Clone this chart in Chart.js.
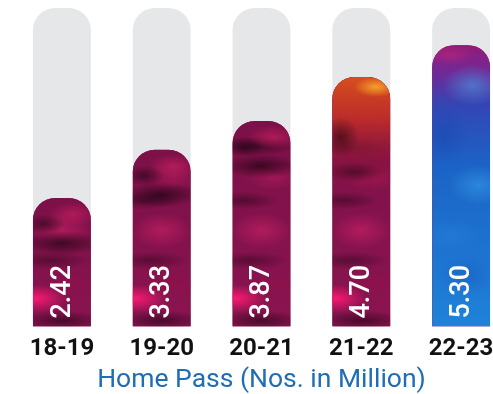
<!DOCTYPE html>
<html>
<head>
<meta charset="utf-8">
<script src="https://cdn.jsdelivr.net/npm/chart.js@4.4.0/dist/chart.umd.min.js"></script>
<style>
  html, body { margin: 0; padding: 0; background: #fff; overflow: hidden; }
  #wrap { width: 511px; height: 394px; }
</style>
</head>
<body>
<div id="wrap"><canvas id="chart"></canvas></div>
<script>
const years = ["18-19", "19-20", "20-21", "21-22", "22-23"];
const homePass = [2.42, 3.33, 3.87, 4.70, 5.30];
const trackMax = [6, 6, 6, 6, 6];

// soft elliptical spot
function spot(ctx, cx, cy, rx, ry, c) {
  ctx.save();
  ctx.translate(cx, cy);
  ctx.scale(1, ry / rx);
  const g = ctx.createRadialGradient(0, 0, 0, 0, 0, rx);
  g.addColorStop(0, `rgba(${c[0]},${c[1]},${c[2]},${c[3]})`);
  g.addColorStop(1, `rgba(${c[0]},${c[1]},${c[2]},0)`);
  ctx.fillStyle = g;
  ctx.fillRect(-rx, -rx, rx * 2, rx * 2);
  ctx.restore();
}

// spots measured up from the bar base: [fx, dy, rx, ry, rgba]
const pinkLow = [
  [0.5, 6, 45, 10, [30, 4, 20, 0.6]],
  [0.05, 28, 32, 14, [255, 25, 115, 0.95]],
  [0.65, 42, 28, 10, [150, 15, 70, 0.5]],
  [0.3, 66, 40, 9, [45, 5, 28, 0.5]],
  [0.5, 96, 30, 18, [215, 35, 105, 0.55]],
  [0.2, 126, 35, 9, [40, 5, 25, 0.5]],
  [0.7, 150, 28, 14, [200, 30, 100, 0.45]],
  [0.4, 180, 40, 10, [30, 4, 20, 0.55]],
  [0.6, 206, 30, 14, [190, 25, 95, 0.45]],
  [0.3, 240, 40, 12, [25, 3, 18, 0.55]]
];
// spots measured down from the bar top
const pinkTop = [
  [0.5, 45, 40, 12, [20, 2, 12, 0.65]],
  [0.7, 16, 25, 12, [215, 35, 100, 0.55]],
  [0.2, 26, 20, 10, [25, 3, 15, 0.55]]
];
const blueSpots = [
  [0.7, 40, 30, 20, [70, 175, 240, 0.5]],
  [0.2, 90, 25, 30, [20, 70, 170, 0.45]],
  [0.8, 140, 30, 20, [60, 165, 235, 0.5]],
  [0.3, 190, 30, 16, [40, 130, 220, 0.45]],
  [0.6, 230, 30, 20, [25, 80, 185, 0.4]]
];

function paintBar(ctx, i, x0, top, w, base) {
  const h = base - top;
  const lin = (stops) => {
    const g = ctx.createLinearGradient(0, top, 0, base);
    stops.forEach(s => g.addColorStop(Math.min(1, s[0] / h), s[1]));
    return g;
  };
  if (i === 4) {
    ctx.fillStyle = lin([[0, "#951a78"], [28, "#6e2a98"], [60, "#3346b4"], [120, "#1b63c6"], [h, "#1f82d8"]]);
    ctx.fillRect(x0, top, w, h);
    blueSpots.forEach(s => spot(ctx, x0 + s[0] * w, top + s[1], s[2], s[3], s[4]));
    spot(ctx, x0 + 0.3 * w, top + 10, 25, 10, [200, 40, 120, 0.5]);
    return;
  }
  ctx.fillStyle = lin([[0, "#7c1048"], [h, "#8a1450"]]);
  ctx.fillRect(x0, top, w, h);
  pinkLow.forEach(s => {
    if (s[1] < h - 20) spot(ctx, x0 + s[0] * w, base - s[1], s[2], s[3], s[4]);
  });
  if (i === 3) {
    // warm cap on the 21-22 bar
    const g = ctx.createLinearGradient(0, top, 0, top + 120);
    g.addColorStop(0, "rgba(215,78,30,1)");
    g.addColorStop(0.35, "rgba(190,45,40,0.95)");
    g.addColorStop(0.7, "rgba(140,20,60,0.6)");
    g.addColorStop(1, "rgba(140,20,60,0)");
    ctx.fillStyle = g;
    ctx.fillRect(x0, top, w, 120);
    spot(ctx, x0 + 0.75 * w, top + 10, 22, 10, [250, 170, 40, 0.9]);
    spot(ctx, x0 + 0.15 * w, top + 60, 18, 20, [40, 5, 15, 0.6]);
    spot(ctx, x0 + 0.4 * w, top + 95, 30, 10, [40, 5, 20, 0.55]);
  } else {
    pinkTop.forEach(s => spot(ctx, x0 + s[0] * w, top + s[1], s[2], s[3], s[4]));
  }
}

const barTexture = {
  id: "barTexture",
  afterDatasetDraw(chart, args) {
    if (args.index !== 0) return;
    const ctx = chart.ctx;
    args.meta.data.forEach((bar, i) => {
      const p = bar.getProps(["x", "y", "base", "width"], true);
      const x0 = p.x - p.width / 2;
      ctx.save();
      ctx.beginPath();
      ctx.roundRect(x0, p.y, p.width, p.base - p.y, [22, 22, 0, 0]);
      ctx.clip();
      paintBar(ctx, i, x0, p.y, p.width, p.base);
      ctx.restore();
    });
  },
  afterDatasetsDraw(chart) {
    const ctx = chart.ctx;
    const meta = chart.getDatasetMeta(0);
    ctx.save();
    ctx.fillStyle = "#ffffff";
    ctx.font = "500 27px Roboto, 'Liberation Sans', sans-serif";
    ctx.textAlign = "left";
    ctx.textBaseline = "middle";
    meta.data.forEach((bar, i) => {
      const p = bar.getProps(["x", "base"], true);
      ctx.save();
      ctx.translate(p.x, p.base - 8);
      ctx.rotate(-Math.PI / 2);
      ctx.fillText(homePass[i].toFixed(2), 0, 1);
      ctx.restore();
    });
    ctx.restore();
  }
};

new Chart(document.getElementById("chart"), {
  type: "bar",
  data: {
    labels: years,
    datasets: [
      {
        data: homePass,
        backgroundColor: "#80124a",
        borderRadius: { topLeft: 22, topRight: 22, bottomLeft: 0, bottomRight: 0 },
        borderSkipped: false
      },
      {
        data: trackMax,
        backgroundColor: "#e6e7e9",
        borderRadius: { topLeft: 22, topRight: 22, bottomLeft: 0, bottomRight: 0 },
        borderSkipped: false
      }
    ]
  },
  options: {
    responsive: true,
    maintainAspectRatio: false,
    animation: false,
    datasets: { bar: { grouped: false, categoryPercentage: 1, barPercentage: 0.58 } },
    layout: { padding: { top: 8, left: 12, right: 0, bottom: 0 } },
    plugins: { legend: { display: false }, tooltip: { enabled: false } },
    scales: {
      y: { display: false, min: 0, max: 6 },
      x: {
        grid: { display: false, drawTicks: false },
        border: { display: false },
        // fixed band below the bars for the year labels and the title
        afterFit(scale) { scale.height = 67.5; },
        ticks: {
          color: "#111111",
          padding: 10,
          font: { family: "Roboto, 'Liberation Sans', sans-serif", size: 24, weight: "bold", lineHeight: 1 }
        },
        title: {
          display: true,
          text: "Home Pass (Nos. in Million)",
          color: "#1f6db5",
          padding: { top: 5, bottom: 0.5 },
          font: { family: "Roboto, 'Liberation Sans', sans-serif", size: 26.5, lineHeight: 1 }
        }
      }
    }
  },
  plugins: [barTexture]
});
</script>
</body>
</html>
